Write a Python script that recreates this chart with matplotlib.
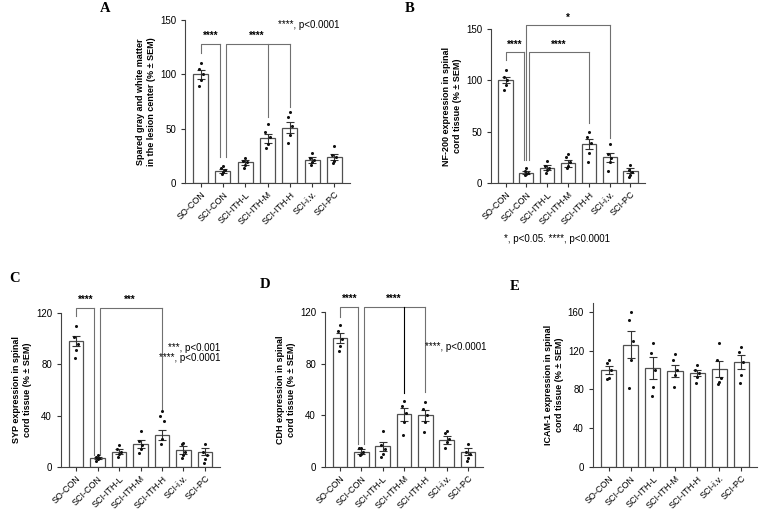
import matplotlib
matplotlib.use("Agg")
import matplotlib.pyplot as plt
import numpy as np

plt.rcParams['font.family'] = ['Liberation Sans', 'DejaVu Sans']

groups = ['SO-CON', 'SCI-CON', 'SCI-ITH-L', 'SCI-ITH-M', 'SCI-ITH-H', 'SCI-i.v.', 'SCI-PC']

# panel A - spared gray/white matter
a_mean = [100, 11, 19, 41, 51, 21, 24]
a_sem = [4, 2, 2, 4, 5, 2.5, 3]
a_pts = [[110, 105, 100, 95, 89], [16, 14, 12, 10, 8], [23, 20, 19, 17, 14],
         [54, 47, 42, 36, 32], [65, 61, 52, 44, 37], [28, 23, 21, 19, 17], [34, 26, 24, 20, 18]]

# panel B - NF-200
b_mean = [100, 10, 15, 19, 38, 25, 12]
b_sem = [3, 1.5, 2.5, 3.5, 5, 4.5, 2.5]
b_pts = [[110, 103, 100, 95, 91], [15, 12, 10, 9, 8], [21, 17, 15, 13, 10],
         [28, 25, 20, 17, 15], [50, 45, 39, 29, 20], [38, 28, 24, 20, 12], [18, 13, 11, 8, 6]]

# panel C - SYP
c_mean = [98, 7, 12, 18, 25, 13, 12]
c_sem = [4, 1, 2, 3, 4, 3, 3]
c_pts = [[110, 101, 96, 91, 85], [9, 8, 7, 6, 5], [17, 14, 12, 10, 8],
         [28, 20, 17, 14, 11], [44, 40, 36, 22, 18], [19, 18, 12, 9, 7], [18, 12, 9, 6, 3]]

# panel D - CDH
d_mean = [100, 12, 16, 41, 40, 21, 12]
d_sem = [4, 2, 3.5, 5, 4, 3, 2.5]
d_pts = [[110, 105, 99, 94, 90], [15, 15, 12, 10, 9], [28, 17, 14, 10, 8],
         [51, 47, 42, 35, 25], [50, 45, 40, 35, 27], [28, 26, 22, 19, 15], [18, 12, 10, 7, 5]]

# panel E - ICAM-1
e_mean = [100, 126, 102, 99, 97, 101, 108]
e_sem = [4, 14, 11, 6, 3, 8, 7]
e_pts = [[110, 107, 100, 92, 91], [160, 151, 130, 110, 81], [128, 117, 100, 82, 73],
         [116, 110, 100, 95, 82], [105, 100, 97, 93, 87], [128, 110, 92, 88, 86], [124, 118, 108, 95, 87]]

W, H = 760, 514
fig = plt.figure(figsize=(W / 100, H / 100), dpi=100)

def make_ax(left, right, top, bottom):
    return fig.add_axes([left / W, 1 - bottom / H, (right - left) / W, (bottom - top) / H])

def bar_panel(ax, means, sems, pts, ymax, yticks, ylabel):
    x = np.arange(len(groups))
    ax.bar(x, means, width=0.68, color='white', edgecolor='#505050', linewidth=0.9, zorder=2)
    ax.errorbar(x, means, yerr=sems, fmt='none', ecolor='#333333', elinewidth=0.8,
                capsize=3, capthick=0.8, zorder=3)
    offs = [0.0, -0.09, 0.09, 0.0, -0.06]
    for i, p in enumerate(pts):
        ax.plot(i + np.array(offs[:len(p)]), p, 'o', color='#111111', ms=1.2, zorder=4)
    ax.set_xlim(-0.7, 6.7)
    ax.set_ylim(0, ymax)
    ax.set_yticks(yticks)
    ax.set_xticks(x)
    ax.set_xticklabels(groups, rotation=45, ha='right', rotation_mode='anchor', fontsize=6.5)
    ax.tick_params(axis='y', labelsize=7, length=3, width=0.8, color='#333333')
    ax.tick_params(axis='x', length=3, width=0.8, color='#333333', pad=2)
    for s in ['top', 'right']:
        ax.spines[s].set_visible(False)
    for s in ['left', 'bottom']:
        ax.spines[s].set_linewidth(0.8)
        ax.spines[s].set_color('#444444')
    ax.set_ylabel(ylabel, fontsize=6.5, fontweight='bold', labelpad=3)

def bracket(ax, xl, yl, xr_list, yr_list, y, stars, sx, sy, lc='#707070'):
    kw = dict(color=lc, lw=0.8, clip_on=False, zorder=1)
    ax.plot([xl, xl, max(xr_list)], [yl, y, y], **kw)
    for xr, yr in zip(xr_list, yr_list):
        ax.plot([xr, xr], [y, yr], **kw)
    ax.text(sx, sy, stars, ha='center', va='center', fontsize=7, fontweight='bold')

# A
axA = make_ax(185, 350, 20, 183)
bar_panel(axA, a_mean, a_sem, a_pts, 150, [0, 50, 100, 150],
          'Spared gray and white matter\nin the lesion center (% ± SEM)')
bracket(axA, 0, 120, [0.85], [24], 128, '****', 0.45, 135)
bracket(axA, 1.12, 24, [3, 4], [61, 70], 128, '****', 2.5, 135)
axA.text(3.45, 145, '****, p<0.0001', fontsize=7, ha='left', va='center')

# B
axB = make_ax(491, 645, 29, 183)
bar_panel(axB, b_mean, b_sem, b_pts, 150, [0, 50, 100, 150],
          'NF-200 expression in spinal\ncord tissue (% ± SEM)')
bracket(axB, 0, 120, [0.88], [22], 128, '****', 0.45, 135)
bracket(axB, 1.12, 22, [4], [58], 128, '****', 2.57, 135)
bracket(axB, 1.0, 22, [5], [44], 154, '*', 3.0, 161)
fig.text(557 / W, 1 - 239 / H, '*, p<0.05. ****, p<0.0001', fontsize=7, ha='center', va='center')

# C
axC = make_ax(61, 220, 313, 467)
bar_panel(axC, c_mean, c_sem, c_pts, 120, [0, 40, 80, 120],
          'SYP expression in spinal\ncord tissue (% ± SEM)')
bracket(axC, 0, 118, [0.85], [9], 124, '****', 0.45, 130)
bracket(axC, 1.12, 9, [4], [45], 124, '***', 2.5, 130)
axC.text(5.3, 89, '***, p<0.001\n****, p<0.0001', fontsize=7, ha='center', va='center',
         multialignment='right', linespacing=1.0)

# D
axD = make_ax(325, 483, 312, 467)
bar_panel(axD, d_mean, d_sem, d_pts, 120, [0, 40, 80, 120],
          'CDH expression in spinal\ncord tissue (% ± SEM)')
bracket(axD, 0, 116, [0.84], [18], 124, '****', 0.45, 130)
bracket(axD, 1.12, 18, [4], [58], 124, '****', 2.5, 130)
axD.plot([3, 3], [124, 57], color='black', lw=0.8, clip_on=False, zorder=1)
axD.text(5.42, 93, '****, p<0.0001', fontsize=7, ha='center', va='center')

# E
axE = make_ax(593, 757, 303, 467)
bar_panel(axE, e_mean, e_sem, e_pts, 169, [0, 40, 80, 120, 160],
          'ICAM-1 expression in spinal\ncord tissue (% ± SEM)')

# panel letters
for lab, px, py in [('A', 105, 9), ('B', 410, 8), ('C', 15, 278), ('D', 265, 285), ('E', 515, 287)]:
    fig.text(px / W, 1 - py / H, lab, fontsize=10.5, fontweight='bold', family='Liberation Serif',
             ha='center', va='center')

fig.savefig('out.png', dpi=100, facecolor='white')
